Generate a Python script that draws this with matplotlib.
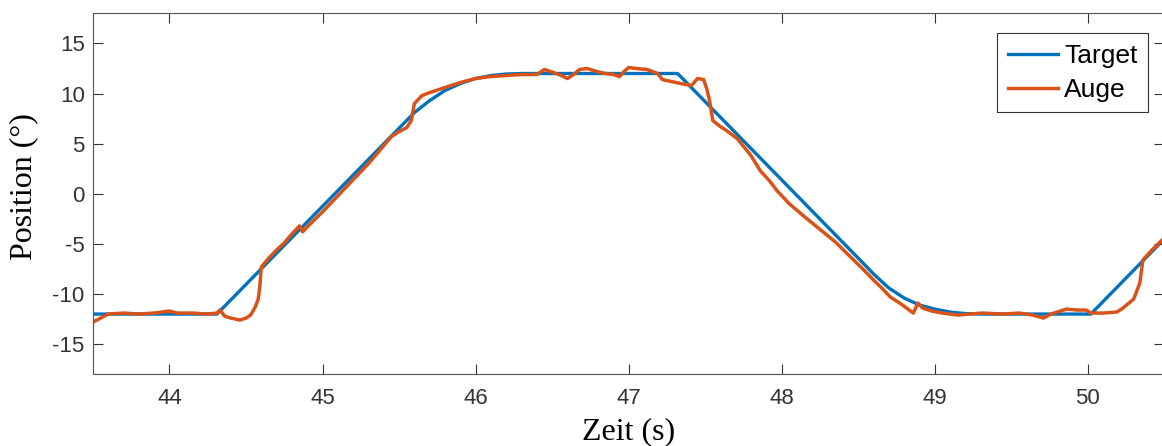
import numpy as np
import matplotlib.pyplot as plt

plt.rcParams['axes.unicode_minus'] = False

# Target trajectory (s, deg)
target_t = [43.5, 44.31, 45.6, 45.7, 45.8, 45.9, 46.0, 46.1, 46.2, 46.3,
            47.32, 48.55, 48.6, 48.7, 48.8, 48.9, 49.0, 49.1, 49.2, 49.3,
            50.02, 50.5]
target_pos = [-12, -12, 8.1, 9.3, 10.3, 11.0, 11.5, 11.8, 11.95, 12,
              12, -7.2, -8.0, -9.4, -10.4, -11.1, -11.5, -11.8, -11.95, -12,
              -12, -4.5]

# Eye trace
auge_t = [43.50, 43.55, 43.60, 43.70, 43.80, 43.90, 44.00, 44.05, 44.15, 44.25,
          44.31, 44.33, 44.36, 44.40, 44.46, 44.50, 44.53, 44.56, 44.58, 44.59,
          44.60, 44.65, 44.70, 44.75, 44.80, 44.85, 44.87, 44.90, 45.00, 45.10,
          45.20, 45.30, 45.40, 45.45, 45.50, 45.55, 45.58, 45.60, 45.65, 45.70,
          45.80, 45.90, 46.00, 46.10, 46.20, 46.30, 46.40, 46.45, 46.51, 46.56,
          46.60, 46.64, 46.68, 46.73, 46.79, 46.85, 46.90, 46.94, 46.97, 47.00,
          47.05, 47.12, 47.19, 47.22, 47.28, 47.34, 47.41, 47.45, 47.49, 47.51,
          47.53, 47.55, 47.60, 47.64, 47.71, 47.80, 47.86, 47.92, 47.97, 48.05,
          48.15, 48.23, 48.35, 48.45, 48.53, 48.60, 48.66, 48.71, 48.78, 48.86,
          48.89, 48.92, 48.98, 49.05, 49.15, 49.31, 49.45, 49.55, 49.64, 49.71,
          49.76, 49.80, 49.86, 49.93, 49.99, 50.02, 50.10, 50.19, 50.23, 50.30,
          50.34, 50.36, 50.42, 50.50]
auge_pos = [-12.8, -12.4, -12.0, -11.9, -12.0, -11.9, -11.7, -11.9, -11.9, -12.0,
            -11.9, -11.6, -12.2, -12.4, -12.6, -12.4, -12.1, -11.3, -10.5, -9.3,
            -7.3, -6.4, -5.6, -4.9, -4.0, -3.2, -3.8, -3.3, -1.8, -0.2,
            1.4, 3.0, 4.8, 5.7, 6.2, 6.6, 7.3, 9.0, 9.8, 10.1,
            10.6, 11.1, 11.5, 11.7, 11.8, 11.9, 11.9, 12.4, 12.1, 11.8,
            11.5, 11.9, 12.4, 12.5, 12.2, 12.0, 11.9, 11.7, 12.2, 12.6,
            12.5, 12.4, 12.0, 11.4, 11.2, 11.0, 10.8, 11.5, 11.4, 10.5,
            9.2, 7.3, 6.7, 6.3, 5.5, 3.8, 2.3, 1.3, 0.3, -1.0,
            -2.3, -3.3, -4.8, -6.3, -7.5, -8.6, -9.5, -10.3, -11.0, -11.9,
            -10.9, -11.4, -11.7, -11.9, -12.1, -11.9, -12.0, -11.9, -12.1, -12.4,
            -12.0, -11.8, -11.5, -11.6, -11.6, -11.9, -11.9, -11.8, -11.4, -10.5,
            -8.9, -6.6, -5.6, -4.4]

xticks = [44, 45, 46, 47, 48, 49, 50]
yticks = [-15, -10, -5, 0, 5, 10, 15]

fig = plt.figure(figsize=(11.62, 4.46), dpi=100)
ax = fig.add_axes([0.080, 0.161, 0.922, 0.809])

ax.plot(target_t, target_pos, color='#0072BD', lw=2.4, label='Target')
ax.plot(auge_t, auge_pos, color='#D95319', lw=2.5, label='Auge')

ax.set_xlim(43.5, 50.5)
ax.set_ylim(-18, 18)
ax.set_xticks(xticks)
ax.set_yticks(yticks)
ax.tick_params(direction='in', length=7, width=0.8, top=True, right=True,
               labelsize=16, colors='#333333')
ax.tick_params(axis='x', pad=10)
ax.tick_params(axis='y', pad=6)
for lab in ax.get_xticklabels() + ax.get_yticklabels():
    lab.set_family('Liberation Sans')
for s in ax.spines.values():
    s.set_color('#555555')
    s.set_linewidth(0.8)

ax.set_xlabel('Zeit (s)', family='Liberation Serif', fontsize=23)
ax.set_ylabel('Position (°)', family='Liberation Serif', fontsize=23)
ax.xaxis.set_label_coords(0.5, -0.12)
ax.yaxis.set_label_coords(-0.051, 0.52)

leg = ax.legend(loc='upper right', bbox_to_anchor=(0.985, 0.945),
                prop={'family': 'Liberation Sans', 'size': 19},
                fancybox=False, framealpha=1, edgecolor='#333333',
                handlelength=1.9, handletextpad=0.25, borderpad=0.4,
                labelspacing=0.38, borderaxespad=0)
leg.get_frame().set_linewidth(0.8)

fig.savefig('out.png', dpi=100)
